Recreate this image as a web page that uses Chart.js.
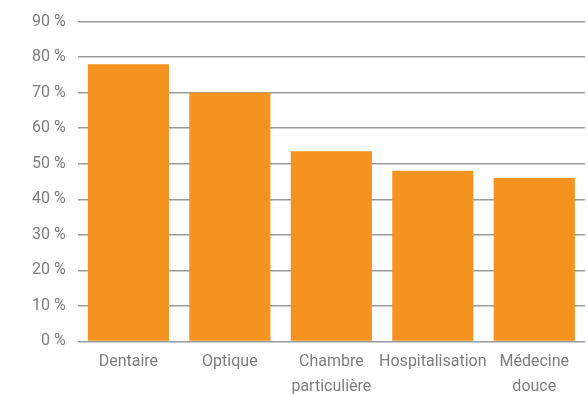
<!DOCTYPE html>
<html>
<head>
<meta charset="utf-8">
<script src="https://cdn.jsdelivr.net/npm/chart.js@4"></script>
<style>
  html, body { margin: 0; padding: 0; background: #fff; }
  #wrap { width: 588px; height: 394px; }
</style>
</head>
<body>
<div id="wrap"><canvas id="chart"></canvas></div>
<script>
// categories and values (percent)
const categories = [
    ['Dentaire'],
    ['Optique'],
    ['Chambre', 'particulière'],
    ['Hospitalisation'],
    ['Médecine', 'douce']
];
const shares = [78, 70, 53.5, 48, 46];
const yMax = 90;
const yStep = 10;

const ctx = document.getElementById('chart').getContext('2d');

new Chart(ctx, {
    type: 'bar',
    data: {
        labels: categories,
        datasets: [{
            data: shares,
            backgroundColor: '#f59320',
            borderWidth: 0,
            barPercentage: 0.8,
            categoryPercentage: 1
        }]
    },
    options: {
        responsive: true,
        maintainAspectRatio: false,
        animation: false,
        layout: { padding: { top: 4, right: 3, left: 20, bottom: -5 } },
        plugins: {
            legend: { display: false },
            tooltip: { enabled: false }
        },
        scales: {
            x: {
                grid: { display: false },
                border: { display: false },
                ticks: {
                    color: '#7d7d7d',
                    font: { family: 'Roboto', size: 16, lineHeight: 1.55 },
                    padding: 0,
                    maxRotation: 0,
                    autoSkip: false
                }
            },
            y: {
                min: 0,
                max: yMax,
                border: { display: false },
                grid: { color: '#9a9a9a', lineWidth: 1.5, drawTicks: false },
                ticks: {
                    stepSize: yStep,
                    color: '#7d7d7d',
                    font: { family: 'Roboto', size: 16 },
                    padding: 12,
                    callback: v => v + ' %'
                }
            }
        }
    }
});
</script>
</body>
</html>
